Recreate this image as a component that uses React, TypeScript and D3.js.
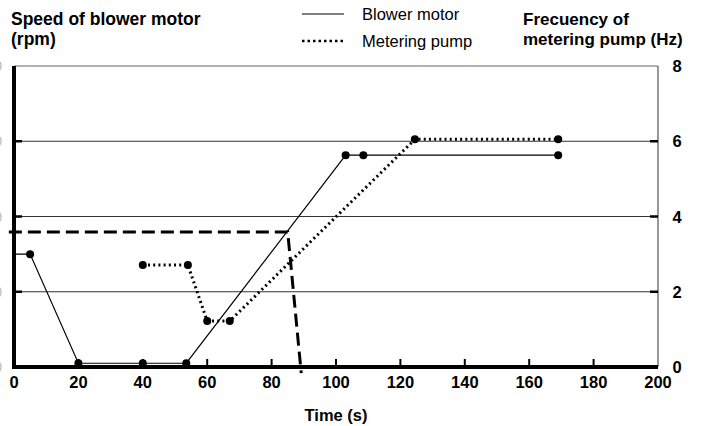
import React from 'react';
import { scaleLinear, line } from 'd3';

// values read in units of the right axis (Hz scale, 0-8)
const blowerTime = [0, 5, 20, 40, 53.5, 103, 108.5, 169];
const blowerValue = [3.0, 3.0, 0.1, 0.1, 0.1, 5.63, 5.63, 5.63];
const blowerDots = [false, true, true, true, true, true, true, true];

const pumpTime = [40, 54, 60, 67, 124.5, 169];
const pumpValue = [2.71, 2.71, 1.22, 1.22, 6.05, 6.05];

const dashTime = [-1.6, 85, 89.2];
const dashValue = [3.59, 3.59, -0.16];

const xTicks = [0, 20, 40, 60, 80, 100, 120, 140, 160, 180, 200];
const rightTicks = [0, 2, 4, 6, 8];
const gridValues = [2, 4, 6];
const leftCutLabels = ['0', '500', '1000', '1500', '2000'];

const font = '"Liberation Sans", Arial, sans-serif';

function App() {
    const width = 704;
    const height = 426;
    const left = 14;
    const right = 658;
    const top = 66;
    const bottom = 367;

    const x = scaleLinear().domain([0, 200]).range([left, right]);
    const y = scaleLinear().domain([0, 8]).range([bottom, top]);

    const blower = blowerTime.map((t, i) => ({ t, v: blowerValue[i], dot: blowerDots[i] }));
    const pump = pumpTime.map((t, i) => ({ t, v: pumpValue[i] }));
    const dash = dashTime.map((t, i) => ({ t, v: dashValue[i] }));

    const path = line<{ t: number; v: number }>()
        .x(d => x(d.t))
        .y(d => y(d.v));

    return (
        <svg width={width} height={height} style={{ position: 'absolute', left: 0, top: 0 }} fontFamily={font}>
            <rect width={width} height={height} fill="#fff" />

            {/* titles */}
            <text x={11} y={25} fontSize={17.5} fontWeight="bold">Speed of blower motor</text>
            <text x={11} y={45} fontSize={17.5} fontWeight="bold">(rpm)</text>
            <text x={523} y={25} fontSize={17} fontWeight="bold">Frecuency of</text>
            <text x={523} y={45} fontSize={17} fontWeight="bold">metering pump (Hz)</text>

            {/* legend */}
            <line x1={302} x2={344} y1={14} y2={14} stroke="#000" strokeWidth={1.2} />
            <text x={362} y={20} fontSize={16.5}>Blower motor</text>
            <line x1={302} x2={344} y1={41} y2={41} stroke="#000" strokeWidth={2.5} strokeDasharray="2.5 3" />
            <text x={362} y={47} fontSize={16.5}>Metering pump</text>

            {/* grid */}
            {gridValues.map(v => (
                <line key={v} x1={left} x2={right} y1={y(v)} y2={y(v)} stroke="#333" strokeWidth={1} />
            ))}
            <line x1={left} x2={right} y1={top} y2={top} stroke="#666" strokeWidth={1.2} />
            <line x1={right} x2={right} y1={top} y2={bottom} stroke="#555" strokeWidth={1.2} />

            {/* right axis ticks + labels */}
            {gridValues.map(v => (
                <line key={'rt' + v} x1={right - 8} x2={right} y1={y(v)} y2={y(v)} stroke="#000" strokeWidth={2.5} />
            ))}
            {rightTicks.map(v => (
                <text key={'rl' + v} x={677} y={y(v) + 6} fontSize={16.5} fontWeight="bold" textAnchor="middle">{v}</text>
            ))}

            {/* left axis ticks, labels cut off at page edge */}
            {gridValues.map(v => (
                <line key={'lt' + v} x1={left} x2={left + 8} y1={y(v)} y2={y(v)} stroke="#000" strokeWidth={2.5} />
            ))}
            {leftCutLabels.map((l, i) => (
                <text key={'ll' + l} x={2} y={y(i * 2) + 5} fontSize={14} fill="#bbb" textAnchor="end">{l}</text>
            ))}

            {/* x axis ticks + labels */}
            {xTicks.slice(1, -1).map(t => (
                <line key={'xt' + t} x1={x(t)} x2={x(t)} y1={bottom} y2={bottom - 8} stroke="#000" strokeWidth={2} />
            ))}
            {xTicks.map(t => (
                <text key={'xl' + t} x={x(t)} y={bottom + 21} fontSize={16.5} fontWeight="bold" textAnchor="middle">{t}</text>
            ))}
            <text x={(left + right) / 2} y={421} fontSize={16.5} fontWeight="bold" textAnchor="middle">Time (s)</text>

            {/* series */}
            <path d={path(blower) || ''} fill="none" stroke="#000" strokeWidth={1.2} />
            <path d={path(pump) || ''} fill="none" stroke="#000" strokeWidth={3} strokeDasharray="2 3.2" />
            <path d={path(dash) || ''} fill="none" stroke="#000" strokeWidth={3} strokeDasharray="13 6" />

            {blower.filter(d => d.dot).map((d, i) => (
                <circle key={'b' + i} cx={x(d.t)} cy={y(d.v)} r={4} fill="#000" />
            ))}
            {pump.map((d, i) => (
                <circle key={'p' + i} cx={x(d.t)} cy={y(d.v)} r={4} fill="#000" />
            ))}

            {/* heavy axes */}
            <line x1={left} x2={left} y1={top} y2={bottom + 2} stroke="#000" strokeWidth={4} />
            <line x1={left - 2} x2={right} y1={bottom} y2={bottom} stroke="#000" strokeWidth={4} />
        </svg>
    );
}

export default App;
